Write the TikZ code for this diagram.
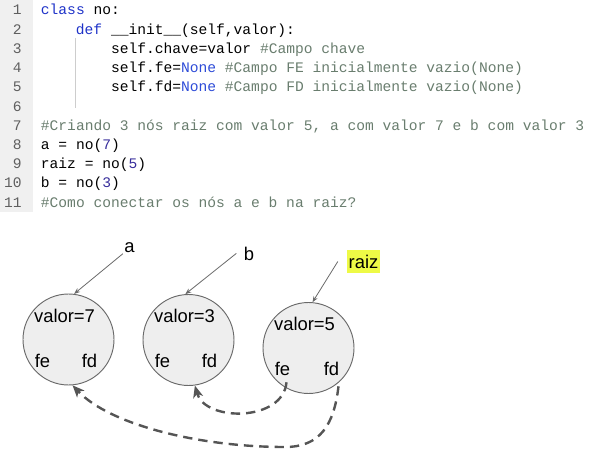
\documentclass[tikz,border=0pt]{standalone}
\usepackage{fontspec}
\setmainfont{Liberation Sans}
\newfontfamily\codefont{Liberation Mono}
\usetikzlibrary{arrows.meta,positioning}

\definecolor{kwblue}{RGB}{30,50,200}
\definecolor{noneblue}{RGB}{45,75,215}
\definecolor{numblue}{RGB}{55,45,155}
\definecolor{cmtgray}{RGB}{105,125,110}
\definecolor{lnogray}{RGB}{95,95,95}
\definecolor{guttergray}{RGB}{240,240,240}
\definecolor{guidegray}{RGB}{205,205,205}
\definecolor{nodegray}{RGB}{238,238,238}
\definecolor{edgegray}{RGB}{105,105,105}
\definecolor{ptrgray}{RGB}{85,85,85}
\definecolor{marca}{RGB}{238,250,70}

\newcommand{\kw}[1]{\textcolor{kwblue}{#1}}
\newcommand{\nn}[1]{\textcolor{noneblue}{#1}}
\newcommand{\nm}[1]{\textcolor{numblue}{#1}}
\newcommand{\cm}[1]{\textcolor{cmtgray}{#1}}

\begin{document}
\begin{tikzpicture}[x=0.75pt,y=0.75pt,
    code/.style={anchor=base west, inner sep=0pt, font=\codefont\fontsize{10.95}{13}\selectfont},
    lno/.style={anchor=base east, inner sep=0pt, text=lnogray, font=\codefont\fontsize{10.95}{13}\selectfont},
    noh/.style={circle, draw=edgegray, line width=0.7pt, fill=nodegray, minimum size=68.25pt, inner sep=0pt},
    campo/.style={anchor=base, inner sep=1pt, font=\fontsize{13.8}{16}\selectfont},
    rotulo/.style={anchor=base, inner sep=1pt, font=\fontsize{13.8}{16}\selectfont},
    aponta/.style={draw=edgegray, line width=0.6pt, -{Stealth[length=4.5pt,width=3.5pt]}},
    filho/.style={draw=ptrgray, line width=1.8pt, dash pattern=on 7pt off 4.5pt,
                  -{Stealth[length=9pt,width=7.5pt,inset=2.5pt]}}]
  \useasboundingbox (0,0) rectangle (592,-467);

  % editor
  \fill[guttergray] (0,0) rectangle (33,-212);
  \draw[guidegray, line width=0.6pt] (75,-38) -- (75,-108);

  \node[lno] (n1) at (22,-15) {1};
  \node[lno] (n2) at (22,-34.2) {2};
  \node[lno] (n3) at (22,-53.4) {3};
  \node[lno] (n4) at (22,-72.6) {4};
  \node[lno] (n5) at (22,-91.8) {5};
  \node[lno] (n6) at (22,-111) {6};
  \node[lno] (n7) at (22,-130.2) {7};
  \node[lno] (n8) at (22,-149.4) {8};
  \node[lno] (n9) at (22,-168.6) {9};
  \node[lno] (n10) at (22,-187.8) {10};
  \node[lno] (n11) at (22,-207) {11};

  \node[code] (l1) at (40.7,-15) {\kw{class} no:};
  \node[code] (l2) at (75.7,-34.2) {\kw{def} \_\_init\_\_(self,valor):};
  \node[code] (l3) at (110.8,-53.4) {self.chave=valor \cm{\#Campo chave}};
  \node[code] (l4) at (110.8,-72.6) {self.fe=\nn{None} \cm{\#Campo FE inicialmente vazio(None)}};
  \node[code] (l5) at (110.8,-91.8) {self.fd=\nn{None} \cm{\#Campo FD inicialmente vazio(None)}};
  \node[code] (l7) at (40.7,-130.2) {\cm{\#Criando 3 nós raiz com valor 5, a com valor 7 e b com valor 3}};
  \node[code] (l8) at (40.7,-149.4) {a = no(\nm{7})};
  \node[code] (l9) at (40.7,-168.6) {raiz = no(\nm{5})};
  \node[code] (l10) at (40.7,-187.8) {b = no(\nm{3})};
  \node[code] (l11) at (40.7,-207) {\cm{\#Como conectar os nós a e b na raiz?}};

  % nos
  \node[noh] (na) at (68.5,-339.5) {};
  \node[noh] (nb) at (188.5,-340) {};
  \node[noh] (nr) at (308.5,-348) {};

  \node[campo] (aval) at ([shift={(-4,17.5)}]na.center) {valor=7};
  \node[campo] (afe) at ([shift={(-26,-27.5)}]na.center) {fe};
  \node[campo] (afd) at ([shift={(21,-27.5)}]na.center) {fd};
  \node[campo] (bval) at ([shift={(-4,17.5)}]nb.center) {valor=3};
  \node[campo] (bfe) at ([shift={(-26,-27.5)}]nb.center) {fe};
  \node[campo] (bfd) at ([shift={(21,-27.5)}]nb.center) {fd};
  \node[campo] (rval) at ([shift={(-4,17.5)}]nr.center) {valor=5};
  \node[campo] (rfe) at ([shift={(-26,-27.5)}]nr.center) {fe};
  \node[campo] (rfd) at ([shift={(23,-27.5)}]nr.center) {fd};

  % variaveis
  \node[rotulo] (la) at (129.5,-252) {a};
  \node[rotulo] (lb) at (249,-260) {b};
  \node[fill=marca, inner xsep=1.2pt, inner ysep=0pt, minimum height=17.25pt,
        font=\fontsize{13.8}{16}\selectfont] (lr) at (363.5,-261.5) {raiz};

  \draw[aponta] (la.south west) -- (na.83);
  \draw[aponta] ([shift={(-6,0)}]lb.west) -- (nb.94);
  \draw[aponta] ([shift={(-9,0)}]lr.west) -- (nr.85);

  % ponteiros fe e fd da raiz
  \draw[filho] ([shift={(4,-5)}]rfe.south) .. controls (283,-422) and (205,-422) .. (nb.-82);
  \draw[filho] ([shift={(7,-9)}]rfd.south) .. controls (334,-425) and (320,-447) .. (285,-447)
     .. controls (200,-447) and (110,-425) .. (na.-85);
\end{tikzpicture}
\end{document}
